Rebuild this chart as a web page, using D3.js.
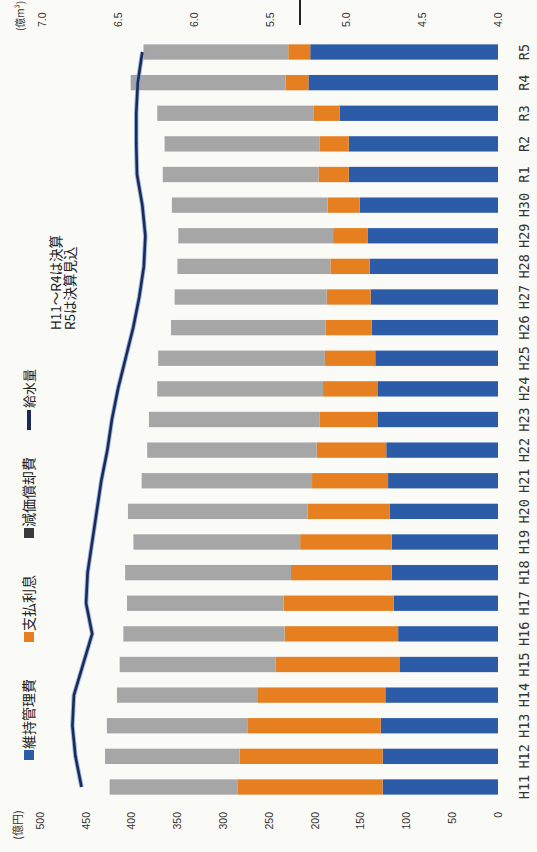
<!DOCTYPE html>
<html><head><meta charset="utf-8">
<script src="https://cdn.jsdelivr.net/npm/d3@7"></script>
<style>html,body{margin:0;padding:0;background:#fafaf6;}svg{display:block;}</style>
</head><body>
<script>
const categories = ["H11","H12","H13","H14","H15","H16","H17","H18","H19","H20","H21","H22","H23","H24","H25","H26","H27","H28","H29","H30","R1","R2","R3","R4","R5"];
const maintenance = [126,126,128,123,107,109,114,116,116,118,120,122,131,131,134,138,139,140,142,151,163,163,173,207,205];
const interest = [158,156,145,139,136,124,120,110,100,90,83,76,64,60,55,50,48,43,38,35,33,32,28,25,24];
const depreciation = [140,147,154,154,170,176,171,181,182,196,186,185,186,181,182,169,166,167,169,170,170,169,171,169,158];
const supply = [6.74,6.78,6.80,6.79,6.73,6.67,6.71,6.70,6.67,6.64,6.61,6.57,6.54,6.50,6.45,6.40,6.36,6.33,6.32,6.34,6.375,6.38,6.38,6.37,6.34];
const leftTicks = [0,50,100,150,200,250,300,350,400,450,500];
const rightTicks = [4.0,4.5,5.0,5.5,6.0,6.5,7.0];
const seriesNames = ["維持管理費","支払利息","減価償却費"];
const lineName = "給水量";
const colors = ["#2c5ba8","#e57f1f","#a6a6a6"];
const legendColors = ["#2c5ba8","#e57f1f","#3a3a3a"];
const lineColor = "#1b2a58";
const noteLines = ["H11～R4は決算","R5は決算見込"];

const W = 537, H = 852;
const svg = d3.select("body").append("svg").attr("width", W).attr("height", H);
svg.append("rect").attr("width", W).attr("height", H).attr("fill", "#fafaf6");
// Chart is drawn in its own (landscape) frame and rotated -90° as in the photo
const g = svg.append("g").attr("transform", `translate(0,${H}) rotate(-90)`);

const x = d3.scaleBand().domain(categories).range([49.7, 815.3]).paddingInner(0.5).paddingOuter(0.25);
const y = d3.scaleLinear().domain([0, 500]).range([498, 40]);
const y2 = d3.scaleLinear().domain([4.0, 7.0]).range([498, 42]);

const stackData = categories.map((c, i) => ({c, s0: maintenance[i], s1: interest[i], s2: depreciation[i]}));
const stack = d3.stack().keys(["s0","s1","s2"])(stackData);

g.selectAll("g.layer").data(stack).join("g").attr("class","layer")
  .attr("fill", (d, i) => colors[i])
  .selectAll("rect").data(d => d).join("rect")
  .attr("x", d => x(d.data.c))
  .attr("width", x.bandwidth())
  .attr("y", d => y(d[1]))
  .attr("height", d => y(d[0]) - y(d[1]));

// supply line
const line = d3.line().x((d, i) => x(categories[i]) + x.bandwidth() / 2).y(d => y2(d));
g.append("path").datum(supply).attr("d", line).attr("fill", "none")
  .attr("stroke", "#6f9ad6").attr("stroke-width", 4.5).attr("stroke-linejoin", "round").attr("opacity", 0.7);
g.append("path").datum(supply).attr("d", line).attr("fill", "none")
  .attr("stroke", lineColor).attr("stroke-width", 2.6).attr("stroke-linejoin", "round");

const num = "'Liberation Sans', Arial, sans-serif";
// left axis
const leftAxis = d3.axisLeft(y).tickValues(leftTicks).tickSize(0).tickPadding(0).tickFormat(d3.format("d"));
const la = g.append("g").attr("transform", "translate(40,0)").call(leftAxis);
la.select(".domain").remove();
la.selectAll("text").attr("font-family", num).attr("font-size", 10.5).attr("fill", "#333");

// right axis
const rightAxis = d3.axisRight(y2).tickValues(rightTicks).tickSize(0).tickPadding(0).tickFormat(d3.format(".1f"));
const ra = g.append("g").attr("transform", "translate(825,0)").call(rightAxis);
ra.select(".domain").remove();
ra.selectAll("text").attr("font-family", num).attr("font-size", 10.5).attr("fill", "#333");

// category axis
const bottomAxis = d3.axisBottom(x).tickSize(0).tickPadding(0);
const ba = g.append("g").attr("transform", "translate(0,519)").call(bottomAxis);
ba.select(".domain").remove();
ba.selectAll("text").attr("font-family", "'DejaVu Sans Mono', monospace").attr("font-size", 13.5).attr("fill", "#333").attr("dy", "0.75em");

// axis titles
const jp = "'Noto Sans CJK JP', sans-serif";
g.append("text").attr("x", 27).attr("y", 22).attr("text-anchor", "middle").attr("font-family", jp).attr("font-size", 11).attr("fill", "#333").text("(億円)");
g.append("text").attr("x", 836).attr("y", 24).attr("text-anchor", "middle").attr("font-family", jp).attr("font-size", 10).attr("fill", "#333").text("(億m³)");

// legend
const legendX = [92, 210, 314];
seriesNames.forEach((name, i) => {
  g.append("rect").attr("x", legendX[i]).attr("y", 24).attr("width", 10).attr("height", 10).attr("fill", legendColors[i]);
  g.append("text").attr("x", legendX[i] + 11).attr("y", 34).attr("font-family", jp).attr("font-size", 14).attr("fill", "#222").text(name);
});
g.append("line").attr("x1", 422).attr("x2", 442).attr("y1", 29).attr("y2", 29).attr("stroke", lineColor).attr("stroke-width", 4);
g.append("text").attr("x", 444).attr("y", 34).attr("font-family", jp).attr("font-size", 13).attr("fill", "#222").text(lineName);

// note
noteLines.forEach((t, i) => {
  g.append("text").attr("x", 522).attr("y", 61 + i * 14).attr("font-family", jp).attr("font-size", 13.5).attr("fill", "#222").text(t);
});

// stray mark at top edge
g.append("line").attr("x1", 827).attr("x2", 852).attr("y1", 300).attr("y2", 300).attr("stroke", "#222").attr("stroke-width", 2);
</script>
</body></html>
